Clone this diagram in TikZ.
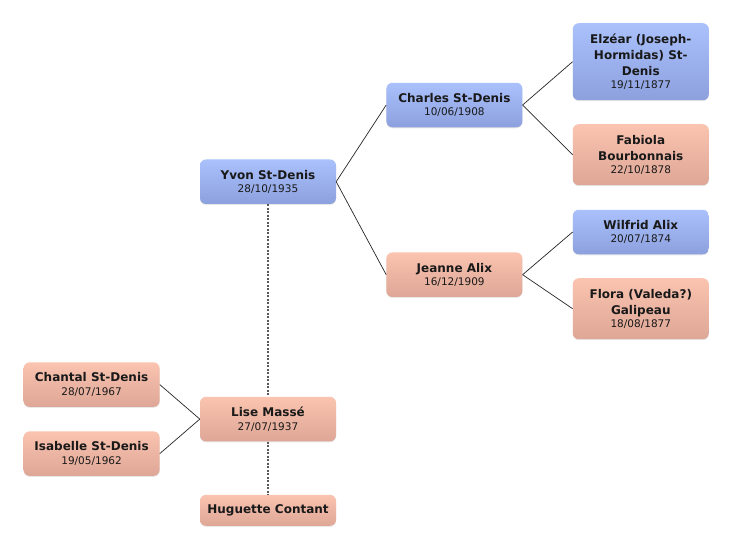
\documentclass[tikz,border=0pt]{standalone}
\usepackage{fontspec}
\setmainfont{DejaVu Sans}
\usetikzlibrary{positioning,shadows}
\definecolor{bluetop}{RGB}{170,193,252}
\definecolor{bluebot}{RGB}{140,160,222}
\definecolor{pinktop}{RGB}{251,196,176}
\definecolor{pinkbot}{RGB}{221,166,150}
\newcommand{\nm}[1]{{\fontsize{12}{13}\selectfont\bfseries #1}}
\tikzset{x=1pt, y=-1pt,
  person/.style={rounded corners=6pt, minimum width=136pt, minimum height=44.5pt,
    inner sep=0pt, align=center, text=black!90, font=\fontsize{10.5}{13.5}\selectfont,
    drop shadow={shadow xshift=0pt, shadow yshift=-1pt, opacity=.18}},
  man/.style={person, top color=bluetop, bottom color=bluebot},
  woman/.style={person, top color=pinktop, bottom color=pinkbot},
  link/.style={draw=black!85, line width=0.7pt},
  spouse/.style={draw=black!65, line width=1.2pt, dash pattern=on 2pt off 1.5pt}}

\begin{document}
\begin{tikzpicture}
\useasboundingbox[fill=white] (0,0) rectangle (732,550);
\node[man] (yvon) at (268,181.7) {\nm{Yvon St-Denis}\\28/10/1935};
\node[man, right=50pt of yvon, yshift=76.7pt] (charles) {\nm{Charles St-Denis}\\10/06/1908};
\node[woman, right=50pt of yvon, yshift=-93pt] (jeanne) {\nm{Jeanne Alix}\\16/12/1909};
\node[man, right=50pt of charles, yshift=43.3pt, minimum height=77pt] (elzear)
  {\nm{Elzéar (Joseph-}\\[2.5pt]\nm{Hormidas) St-}\\[2.5pt]\nm{Denis}\\19/11/1877};
\node[woman, right=50pt of charles, yshift=-49.7pt, minimum height=61pt] (fabiola)
  {\nm{Fabiola}\\[2.5pt]\nm{Bourbonnais}\\22/10/1878};
\node[man, right=50pt of jeanne, yshift=42.7pt] (wilfrid) {\nm{Wilfrid Alix}\\20/07/1874};
\node[woman, right=50pt of jeanne, yshift=-34pt, minimum height=61pt] (flora)
  {\nm{Flora (Valeda?)}\\[2.5pt]\nm{Galipeau}\\18/08/1877};
\node[woman, below=192.5pt of yvon] (lise) {\nm{Lise Massé}\\27/07/1937};
\node[woman, below=53pt of lise, minimum height=31pt] (huguette) {\nm{Huguette Contant}};
\node[woman, left=40pt of lise, yshift=34.5pt] (chantal) {\nm{Chantal St-Denis}\\28/07/1967};
\node[woman, left=40pt of lise, yshift=-34.5pt] (isabelle) {\nm{Isabelle St-Denis}\\19/05/1962};
% parents
\draw[link] (yvon.east) -- (charles.west);
\draw[link] (yvon.east) -- (jeanne.west);
\draw[link] (charles.east) -- (elzear.west);
\draw[link] (charles.east) -- (fabiola.west);
\draw[link] (jeanne.east) -- (wilfrid.west);
\draw[link] (jeanne.east) -- (flora.west);
% children
\draw[link] (chantal.east) -- (lise.west);
\draw[link] (isabelle.east) -- (lise.west);
% spouses
\draw[spouse] (yvon.south) -- (lise.north);
\draw[spouse] (lise.south) -- (huguette.north);
\end{tikzpicture}
\end{document}
